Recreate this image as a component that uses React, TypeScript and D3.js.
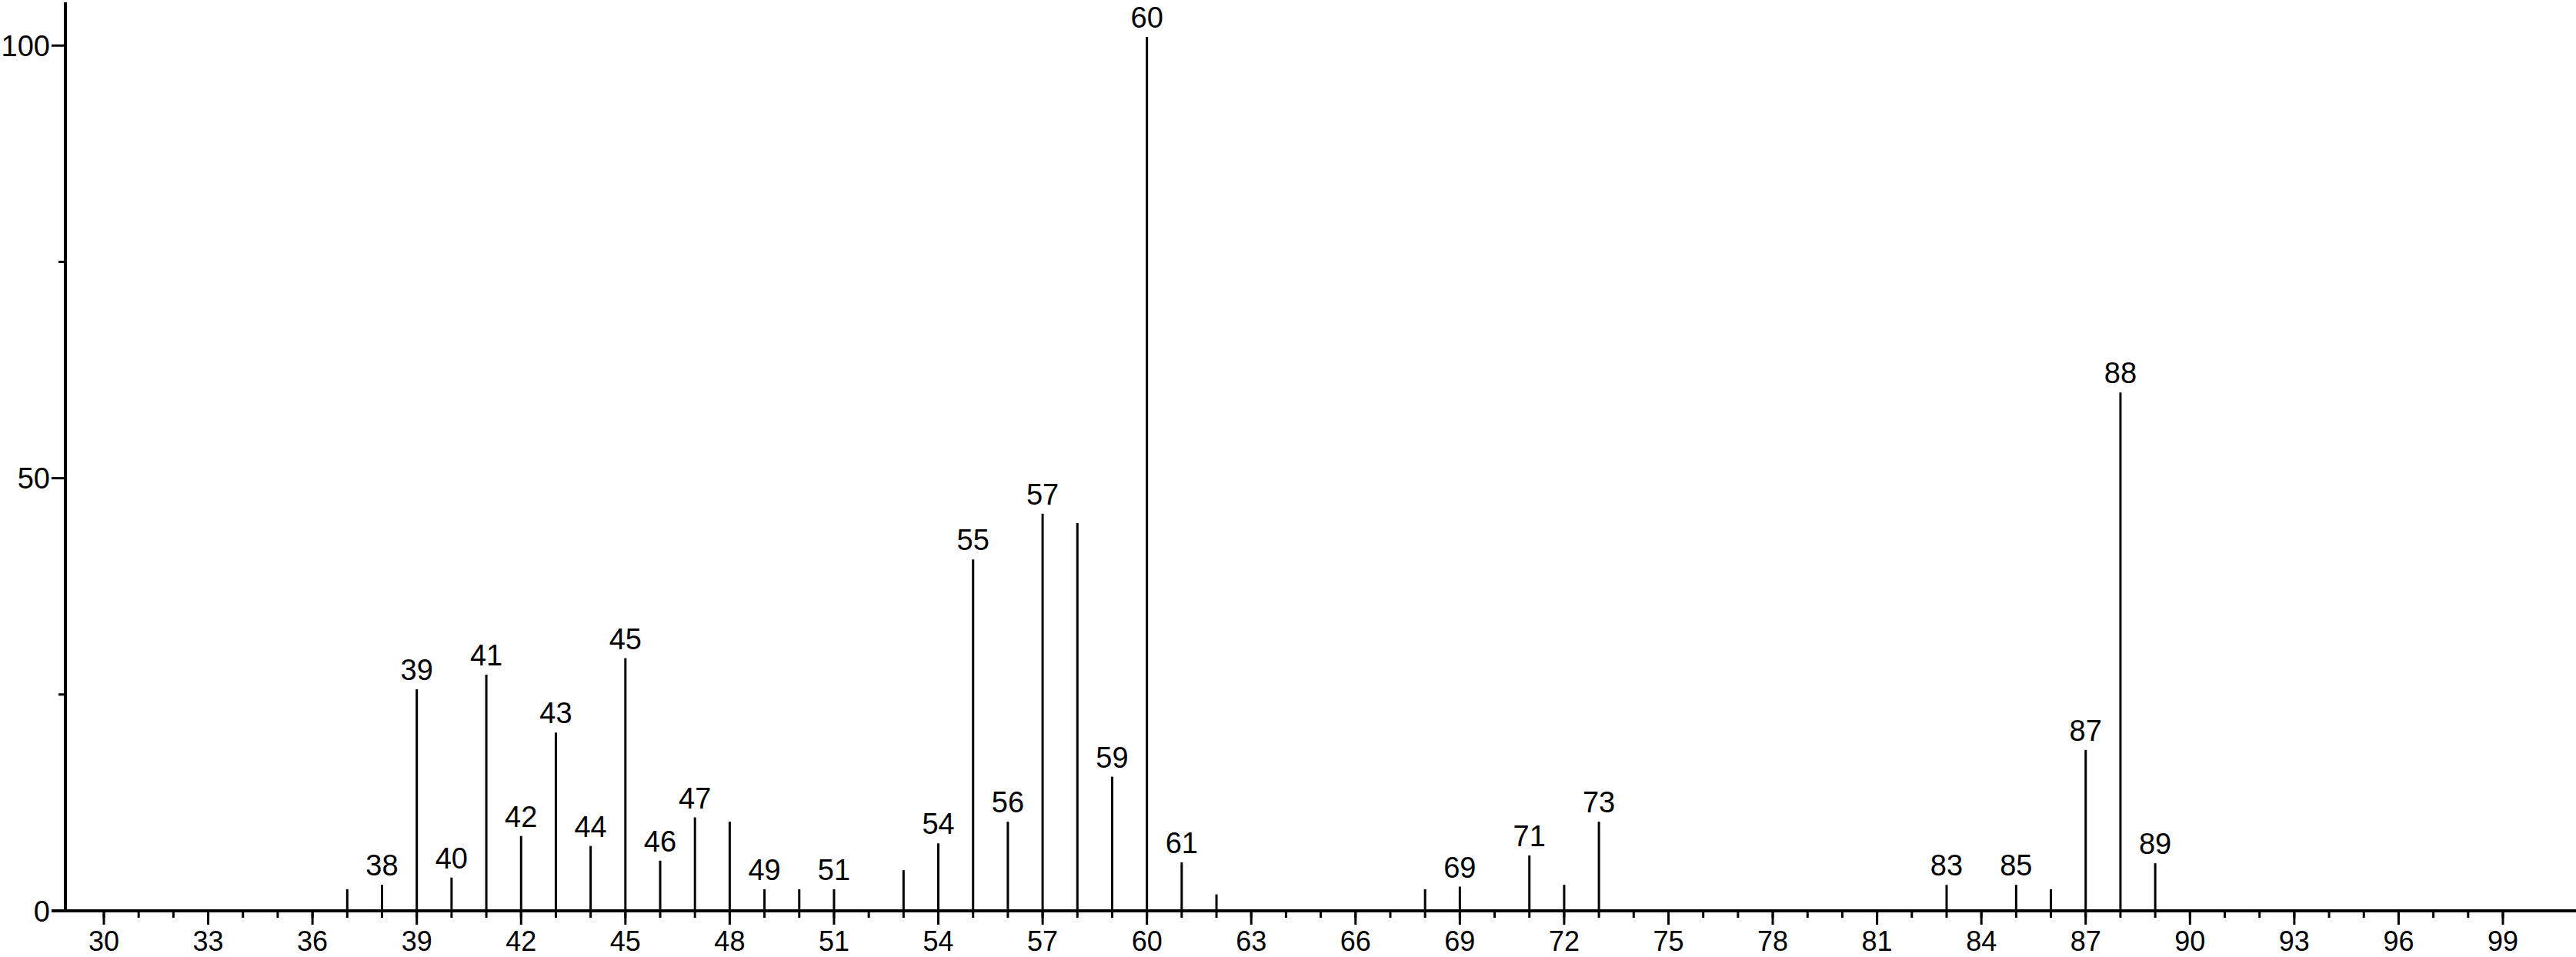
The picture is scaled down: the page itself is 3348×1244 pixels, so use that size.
import React from "react";
import * as d3 from "d3";

const mzValues = [37, 38, 39, 40, 41, 42, 43, 44, 45, 46, 47, 48, 49, 50, 51, 53, 54, 55, 56, 57, 58, 59, 60, 61, 62, 68, 69, 71, 72, 73, 83, 85, 86, 87, 88, 89];
const intensities = [2.5, 3.0, 25.6, 3.85, 27.3, 8.65, 20.6, 7.5, 29.2, 5.8, 10.8, 10.3, 2.5, 2.5, 2.5, 4.7, 7.8, 40.6, 10.3, 45.9, 44.8, 15.5, 101.0, 5.6, 1.9, 2.5, 2.8, 6.4, 3.0, 10.3, 3.0, 3.0, 2.5, 18.6, 59.9, 5.5];
const labeledPeaks = [38, 39, 40, 41, 42, 43, 44, 45, 46, 47, 49, 51, 54, 55, 56, 57, 59, 60, 61, 69, 71, 73, 83, 85, 87, 88, 89];
const xMajorTicks = [30, 33, 36, 39, 42, 45, 48, 51, 54, 57, 60, 63, 66, 69, 72, 75, 78, 81, 84, 87, 90, 93, 96, 99];
const xMinorTicks = d3.range(30, 100);
const yMajorTicks = [0, 50, 100];
const yMinorTicks = [25, 75];

const W = 3348;
const H = 1244;
const FONT = "'Liberation Sans', Arial, sans-serif";

export default function App() {
  const x = d3.scaleLinear().domain([30, 99]).range([135, 3253]);
  const y = d3.scaleLinear().domain([0, 105]).range([1184, 3]);
  const axisX = 85;
  const y0 = y(0);
  const peaks = mzValues.map((m, i) => ({ m, v: intensities[i] }));

  return (
    <svg width={W} height={H} style={{ position: "absolute", left: 0, top: 0, background: "#fff" }}>
      <rect x={0} y={0} width={W} height={H} fill="#fff" />
      {peaks.map((p) => (
        <line key={"p" + p.m} x1={x(p.m)} x2={x(p.m)} y1={y0} y2={y(p.v)} stroke="#000" strokeWidth={3} />
      ))}
      {peaks
        .filter((p) => labeledPeaks.includes(p.m))
        .map((p) => (
          <text key={"l" + p.m} x={x(p.m)} y={y(p.v) - 12} textAnchor="middle" fontFamily={FONT} fontSize={38} fill="#000">
            {p.m}
          </text>
        ))}
      <line x1={67} x2={W} y1={y0} y2={y0} stroke="#000" strokeWidth={4} />
      {xMinorTicks.map((t) => (
        <line key={"xm" + t} x1={x(t)} x2={x(t)} y1={y0} y2={y0 + 9} stroke="#000" strokeWidth={3} />
      ))}
      {xMajorTicks.map((t) => (
        <g key={"xM" + t}>
          <line x1={x(t)} x2={x(t)} y1={y0} y2={y0 + 18} stroke="#000" strokeWidth={3} />
          <text x={x(t)} y={1236} textAnchor="middle" fontFamily={FONT} fontSize={36} fill="#000">
            {t}
          </text>
        </g>
      ))}
      <line x1={axisX} x2={axisX} y1={y(105)} y2={y0 + 2} stroke="#000" strokeWidth={4} />
      {yMinorTicks.map((t) => (
        <line key={"ym" + t} x1={axisX - 9} x2={axisX} y1={y(t)} y2={y(t)} stroke="#000" strokeWidth={3} />
      ))}
      {yMajorTicks.map((t) => (
        <g key={"yM" + t}>
          <line x1={axisX - 18} x2={axisX} y1={y(t)} y2={y(t)} stroke="#000" strokeWidth={3} />
          <text x={65} y={y(t)} dy="0.36em" textAnchor="end" fontFamily={FONT} fontSize={38} fill="#000">
            {t}
          </text>
        </g>
      ))}
    </svg>
  );
}
